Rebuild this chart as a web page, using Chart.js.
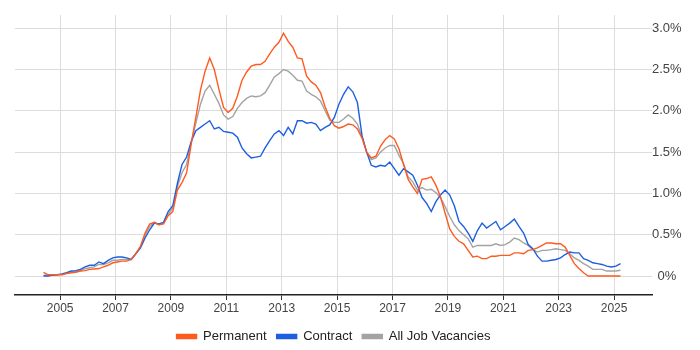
<!DOCTYPE html>
<html>
<head>
<meta charset="utf-8">
<script src="https://cdn.jsdelivr.net/npm/chart.js@4"></script>
<style>
  html, body { margin: 0; padding: 0; background: #fff; }
  #wrap { width: 700px; height: 350px; }
</style>
</head>
<body>
<div id="wrap"><canvas id="chart" width="700" height="350"></canvas></div>
<script>
// ====== DATA ======
// one reading every two months, from mid 2004 to spring 2025 (share of job ads, %)
const startYear = 2004.4;
const stepYears = 1 / 6;

const permanent = [
    0.045, 0.015, 0.015, 0.015, 0.015, 0.03, 0.04, 0.045, 0.06, 0.065,
    0.08, 0.085, 0.09, 0.11, 0.13, 0.16, 0.17, 0.18, 0.18, 0.2,
    0.27, 0.36, 0.52, 0.63, 0.65, 0.62, 0.63, 0.73, 0.78, 1.04,
    1.13, 1.25, 1.6, 1.92, 2.25, 2.48, 2.64, 2.5, 2.26, 2.04,
    1.98, 2.03, 2.18, 2.37, 2.47, 2.54, 2.56, 2.56, 2.6, 2.69,
    2.77, 2.83, 2.94, 2.84, 2.77, 2.64, 2.63, 2.42, 2.35, 2.31,
    2.22, 2.05, 1.91, 1.82, 1.79, 1.81, 1.84, 1.83, 1.78, 1.67,
    1.5, 1.43, 1.45, 1.57, 1.65, 1.7, 1.66, 1.54, 1.35, 1.17,
    1.08, 1.0, 1.17, 1.18, 1.2, 1.1, 0.96, 0.76, 0.57, 0.48,
    0.42, 0.39, 0.31, 0.23, 0.24, 0.21, 0.21, 0.24, 0.24, 0.25,
    0.25, 0.25, 0.28, 0.28, 0.27, 0.31, 0.32, 0.34, 0.37, 0.4,
    0.4, 0.39, 0.39, 0.35, 0.25, 0.15, 0.09, 0.04, 0, 0,
    0, 0, 0, 0, 0, 0
];

const contract = [
    0, 0, 0.01, 0.015, 0.025, 0.04, 0.06, 0.065, 0.08, 0.11,
    0.13, 0.13, 0.17, 0.15, 0.19, 0.22, 0.23, 0.23, 0.22, 0.2,
    0.27, 0.34, 0.46, 0.56, 0.64, 0.63, 0.65, 0.78, 0.85, 1.12,
    1.35, 1.44, 1.63, 1.76, 1.8, 1.84, 1.88, 1.78, 1.8, 1.75,
    1.74, 1.73, 1.68, 1.55, 1.48, 1.43, 1.44, 1.45, 1.55, 1.64,
    1.72, 1.76, 1.7, 1.8, 1.72, 1.88, 1.88, 1.85, 1.86, 1.84,
    1.76, 1.8, 1.83, 1.92, 2.08, 2.2, 2.29, 2.23, 2.1, 1.7,
    1.5, 1.34, 1.32, 1.34, 1.33, 1.38, 1.3, 1.22, 1.3, 1.26,
    1.22, 1.1, 0.95, 0.88, 0.78, 0.9, 0.98, 1.04, 0.98, 0.85,
    0.66, 0.6, 0.52, 0.42, 0.55, 0.64, 0.58, 0.62, 0.66, 0.56,
    0.6, 0.64, 0.69, 0.6, 0.52, 0.38, 0.33, 0.24, 0.18, 0.18,
    0.19, 0.2, 0.22, 0.26, 0.29, 0.28, 0.28, 0.21, 0.19, 0.16,
    0.15, 0.14, 0.12, 0.11, 0.12, 0.15
];

const allJobs = [
    0.01, 0.01, 0.01, 0.015, 0.02, 0.035, 0.05, 0.055, 0.065, 0.09,
    0.1, 0.11, 0.14, 0.14, 0.16, 0.19, 0.19, 0.2, 0.2, 0.2,
    0.27, 0.35, 0.49, 0.6, 0.65, 0.62, 0.64, 0.75, 0.82, 1.08,
    1.25, 1.35, 1.62, 1.85, 2.08, 2.24, 2.31, 2.2, 2.09, 1.95,
    1.9, 1.93, 2.03, 2.1, 2.15, 2.18, 2.17, 2.18, 2.22, 2.31,
    2.41, 2.45, 2.5, 2.48, 2.43, 2.37, 2.36, 2.24, 2.2, 2.17,
    2.12, 2.0, 1.89, 1.86, 1.86, 1.9, 1.95, 1.91, 1.84, 1.68,
    1.5, 1.41, 1.43, 1.5, 1.55, 1.58, 1.58, 1.46, 1.36, 1.2,
    1.14, 1.04, 1.07, 1.04, 1.05, 1.01, 0.95, 0.84, 0.72, 0.62,
    0.55, 0.5, 0.45, 0.35, 0.37, 0.37, 0.37, 0.37, 0.39, 0.37,
    0.38, 0.41, 0.46, 0.44, 0.4, 0.37, 0.32, 0.29, 0.31, 0.31,
    0.32, 0.33, 0.32, 0.31, 0.27, 0.22, 0.19, 0.15, 0.12, 0.08,
    0.08, 0.08, 0.06, 0.06, 0.06, 0.07
];

const xTicks = [2005, 2007, 2009, 2011, 2013, 2015, 2017, 2019, 2021, 2023, 2025];
const yTicks = [0, 0.5, 1, 1.5, 2, 2.5, 3];

// ====== HELPERS ======
function toPoints(values) {
    return values.map((v, i) => ({ x: startYear + i * stepYears, y: v }));
}

function lineSet(label, values, color) {
    return {
        label: label,
        data: toPoints(values),
        borderColor: color,
        backgroundColor: color,
        borderWidth: 1.4,
        pointRadius: 0,
        tension: 0
    };
}

// centre the legend under the plot area instead of the whole canvas
const legendUnderPlot = {
    id: 'legendUnderPlot',
    afterLayout(chart) {
        const lg = chart.legend;
        lg.left = chart.chartArea.left;
        lg.right = chart.chartArea.right;
        lg.top += 3;
        lg.bottom += 3;
    }
};

// ====== CHART ======
Chart.defaults.font.family = "'Liberation Sans', Arial, sans-serif";
Chart.defaults.color = '#444';

new Chart(document.getElementById('chart'), {
    type: 'line',
    data: {
        datasets: [
            lineSet('Permanent', permanent, '#ff5a1f'),
            lineSet('Contract', contract, '#1d5fe0'),
            lineSet('All Job Vacancies', allJobs, '#a3a3a3')
        ]
    },
    plugins: [legendUnderPlot],
    options: {
        responsive: false,
        animation: false,
        layout: { padding: { left: 15, top: 15, right: 0, bottom: 0 } },
        plugins: {
            legend: {
                position: 'bottom',
                labels: {
                    boxWidth: 20,
                    boxHeight: 4,
                    padding: 10,
                    color: '#222',
                    font: { size: 13 }
                }
            },
            tooltip: { enabled: false }
        },
        scales: {
            x: {
                type: 'linear',
                min: 2003.37,
                max: 2026.37,
                afterBuildTicks: s => { s.ticks = xTicks.map(v => ({ value: v })); },
                afterFit: s => { s.height = 22; },
                grid: { color: '#dcdcdc', tickLength: 5, tickColor: '#333' },
                border: { color: '#222', width: 1.5 },
                ticks: {
                    padding: 1,
                    maxRotation: 0,
                    font: { size: 12 },
                    callback: v => String(v)
                }
            },
            y: {
                position: 'right',
                min: -0.23,
                max: 3.16,
                afterBuildTicks: s => { s.ticks = yTicks.map(v => ({ value: v })); },
                afterFit: s => { s.width = 48; },
                grid: { color: '#dcdcdc', drawTicks: false },
                border: { display: false },
                ticks: {
                    padding: 0,
                    crossAlign: 'center',
                    font: { size: 13 },
                    callback: v => v === 0 ? '0%' : v.toFixed(1) + '%'
                }
            }
        }
    }
});
</script>
</body>
</html>
